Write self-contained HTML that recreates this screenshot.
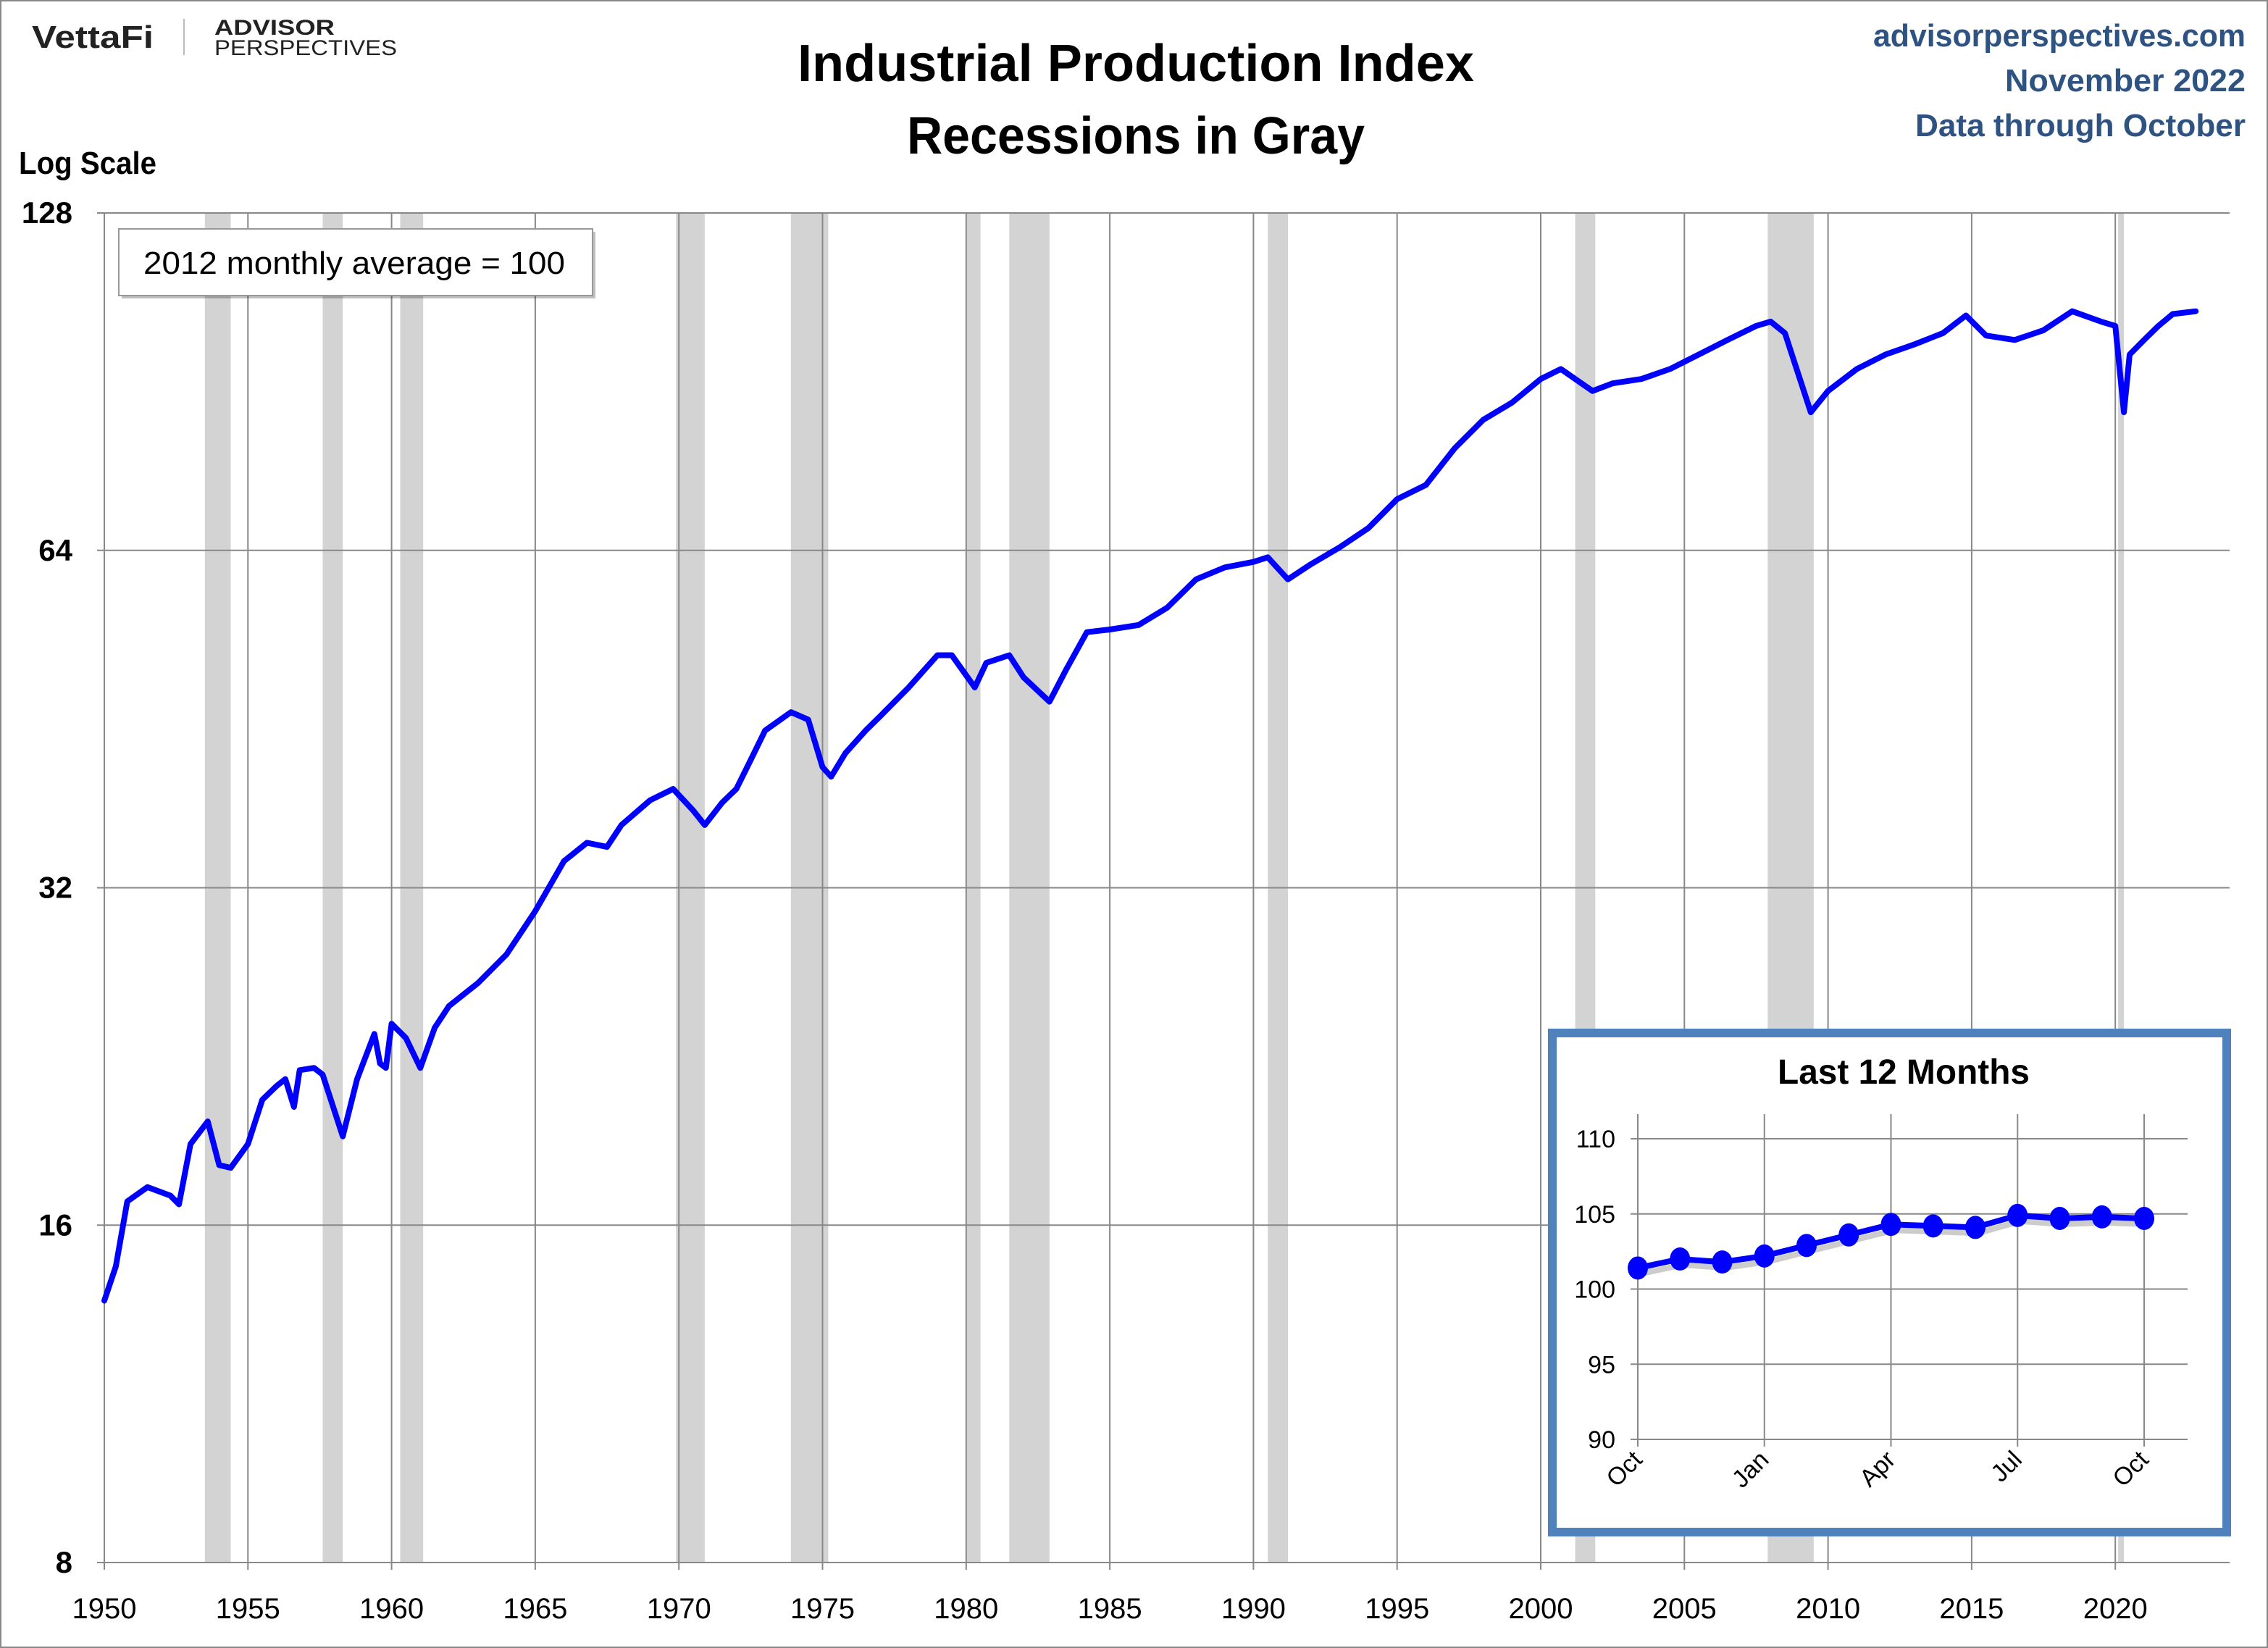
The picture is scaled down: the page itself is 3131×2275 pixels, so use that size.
<!DOCTYPE html>
<html><head><meta charset="utf-8">
<style>
html,body{margin:0;padding:0;background:#fff;}
svg{display:block;}
text{font-family:"Liberation Sans Narrow","Liberation Sans",sans-serif;}
</style></head>
<body>
<svg id="chart" width="3131" height="2275" viewBox="0 0 3131 2275" xmlns="http://www.w3.org/2000/svg">
<rect x="1" y="1" width="3129" height="2273" fill="#fff" stroke="#888" stroke-width="2"/>
<g id="recessions"></g>
<g id="grid"></g>
<g id="series"></g>
<g id="labels"></g>

<text x="44" y="66" font-size="44" font-weight="bold" fill="#222" textLength="168" lengthAdjust="spacingAndGlyphs">VettaFi</text>
<line x1="254" y1="26" x2="254" y2="76" stroke="#bbb" stroke-width="2"/>
<text x="296" y="48" font-size="30" font-weight="bold" fill="#222" textLength="166" lengthAdjust="spacingAndGlyphs">ADVISOR</text>
<text x="296" y="76" font-size="30" fill="#222" textLength="252" lengthAdjust="spacingAndGlyphs">PERSPECTIVES</text>

<text x="1568" y="112" font-size="72" font-weight="bold" text-anchor="middle" fill="#000" textLength="934" lengthAdjust="spacingAndGlyphs">Industrial Production Index</text>
<text x="1568" y="212" font-size="72" font-weight="bold" text-anchor="middle" fill="#000" textLength="632" lengthAdjust="spacingAndGlyphs">Recessions in Gray</text>

<text x="3100" y="64" font-size="44" font-weight="bold" text-anchor="end" fill="#2e5382" textLength="514" lengthAdjust="spacingAndGlyphs">advisorperspectives.com</text>
<text x="3100" y="126" font-size="44" font-weight="bold" text-anchor="end" fill="#2e5382" textLength="332" lengthAdjust="spacingAndGlyphs">November 2022</text>
<text x="3100" y="188" font-size="44" font-weight="bold" text-anchor="end" fill="#2e5382" textLength="456" lengthAdjust="spacingAndGlyphs">Data through October</text>

<text x="26" y="240" font-size="44" font-weight="bold" fill="#000" textLength="190" lengthAdjust="spacingAndGlyphs">Log Scale</text>

<rect x="168" y="320" width="654" height="92" fill="#000" opacity="0.25"/>
<rect x="164" y="316" width="654" height="92" fill="#fff" stroke="#999" stroke-width="2"/>
<text x="198" y="378" font-size="44" fill="#000" textLength="582" lengthAdjust="spacingAndGlyphs">2012 monthly average = 100</text>

<g id="inset"></g>
</svg>
<script>
// ---- main chart data ----
const years = [1950.0,1950.4,1950.8,1951.5,1952.3,1952.6,1953.0,1953.6,1954.0,1954.4,1955.0,1955.5,1956.0,1956.3,1956.6,1956.8,1957.3,1957.6,1958.3,1958.8,1959.4,1959.6,1959.8,1960.0,1960.5,1961.0,1961.5,1962.0,1963.0,1964.0,1965.0,1966.0,1966.8,1967.5,1968.0,1969.0,1969.8,1970.5,1970.9,1971.5,1972.0,1972.5,1973.0,1973.9,1974.5,1975.0,1975.3,1975.8,1976.5,1977.0,1978.0,1979.0,1979.5,1980.3,1980.7,1981.5,1982.0,1982.9,1983.5,1984.2,1985.0,1986.0,1987.0,1988.0,1989.0,1990.0,1990.5,1991.2,1992.0,1993.0,1994.0,1995.0,1996.0,1997.0,1998.0,1999.0,2000.0,2000.7,2001.8,2002.5,2003.5,2004.5,2005.5,2006.5,2007.5,2008.0,2008.5,2009.4,2010.0,2011.0,2012.0,2013.0,2014.0,2014.8,2015.5,2016.5,2017.5,2018.5,2019.5,2020.0,2020.3,2020.5,2021.0,2021.5,2022.0,2022.8];
const values = [13.7,14.7,16.8,17.3,17.0,16.7,18.9,19.8,18.1,18.0,18.9,20.7,21.3,21.6,20.4,22.0,22.1,21.8,19.2,21.6,23.7,22.3,22.1,24.2,23.5,22.1,24.0,25.1,26.3,27.9,30.5,33.8,35.1,34.8,36.4,38.3,39.2,37.5,36.4,38.1,39.2,41.6,44.2,45.9,45.2,41.0,40.2,42.2,44.2,45.5,48.3,51.6,51.6,48.3,50.8,51.6,49.3,46.9,50.2,54.1,54.4,54.9,56.9,60.3,61.8,62.5,63.1,60.3,62.2,64.4,67.0,71.1,73.2,78.9,83.7,86.7,91.0,92.9,88.8,90.2,91.0,92.9,95.7,98.6,101.5,102.4,100.0,85.0,88.8,92.9,95.7,97.7,100.0,103.7,99.5,98.6,100.6,104.6,102.4,101.5,85.0,95.7,98.6,101.5,104.0,104.6];
const recStart = [1953.5,1957.6,1960.3,1969.9,1973.9,1980.0,1981.5,1990.5,2001.2,2007.9,2020.1];
const recEnd   = [1954.4,1958.3,1961.1,1970.9,1975.2,1980.5,1982.9,1991.2,2001.9,2009.5,2020.3];
const yTicks = [8,16,32,64,128];
const xTicks = [1950,1955,1960,1965,1970,1975,1980,1985,1990,1995,2000,2005,2010,2015,2020];
// ---- inset data ----
const insetValues = [101.4,102.0,101.8,102.2,102.9,103.6,104.3,104.2,104.1,104.9,104.7,104.8,104.7];
const insetYTicks = [90,95,100,105,110];
const insetXLabels = ["Oct","Jan","Apr","Jul","Oct"];

const NS="http://www.w3.org/2000/svg";
function mk(tag,attrs,parent){const e=document.createElementNS(NS,tag);for(const k in attrs)e.setAttribute(k,attrs[k]);parent.appendChild(e);return e;}
const L=144,R=3078,T=294,B=2157;
const X=y=>L+(y-1950)*39.66;
const Y=v=>B-(Math.log2(v)-3)*(B-T)/4;

const rg=document.getElementById('recessions');
recStart.forEach((s,i)=>{
  const r=mk('rect',{x:X(s),y:T,width:X(recEnd[i])-X(s),height:B-T,fill:'#d3d3d3'},rg);
  
  
});
const gg=document.getElementById('grid');
const lg=document.getElementById('labels');
xTicks.forEach(t=>{
  const l=mk('line',{x1:X(t),y1:T,x2:X(t),y2:B+10,stroke:'#888','stroke-width':2},gg);
  
  
  const tx=mk('text',{x:X(t),y:2234,'font-size':40,'text-anchor':'middle',fill:'#000'},lg);
  tx.textContent=t;
  
  
});
yTicks.forEach(t=>{
  const l=mk('line',{x1:L-10,y1:Y(t),x2:R,y2:Y(t),stroke:'#888','stroke-width':2},gg);
  
  
  const tx=mk('text',{x:100,y:Y(t)+14,'font-size':42,'font-weight':'bold','text-anchor':'end',fill:'#000'},lg);
  tx.textContent=t;
  
  
});
mk('line',{x1:L,y1:T,x2:L,y2:B,stroke:'#888','stroke-width':2},gg);

const sg=document.getElementById('series');
const pts=years.map((y,i)=>X(y).toFixed(1)+','+Y(values[i]).toFixed(1)).join(' ');
const pl=mk('polyline',{points:pts,fill:'none',stroke:'#0000ff','stroke-width':8,'stroke-linejoin':'round','stroke-linecap':'round'},sg);



// inset
const ig=document.getElementById('inset');
mk('rect',{x:2143,y:1426,width:931,height:689,fill:'#fff',stroke:'#4f81bd','stroke-width':12},ig);
const it=mk('text',{x:2628,y:1496,'font-size':48,'font-weight':'bold','text-anchor':'middle',fill:'#000',textLength:348,lengthAdjust:'spacingAndGlyphs'},ig);
it.textContent='Last 12 Months';


const iL=2261,iR=2960,iT=1538,iB=1987;
const IX=i=>iL+i*(iR-iL)/12;
const IY=v=>iB-(v-90)*(iB-1572)/20;
insetYTicks.forEach(t=>{
  const l=mk('line',{x1:iL-10,y1:IY(t),x2:3020,y2:IY(t),stroke:'#888','stroke-width':2},ig);
  
  
  const tx=mk('text',{x:2230,y:IY(t)+12,'font-size':34,'text-anchor':'end',fill:'#000'},ig);
  tx.textContent=t;
  
  
});
insetXLabels.forEach((lab,k)=>{
  const x=IX(k*3);
  const l=mk('line',{x1:x,y1:iT,x2:x,y2:iB+10,stroke:'#888','stroke-width':2},ig);
  
  
  const tx=mk('text',{x:x+8,y:iB+30,'font-size':34,'text-anchor':'end',fill:'#000',transform:`rotate(-45 ${x+8} ${iB+30})`},ig);
  tx.textContent=lab;
  
  
});
const ipts=insetValues.map((v,i)=>IX(i).toFixed(1)+','+IY(v).toFixed(1)).join(' ');
mk('polyline',{points:ipts,fill:'none',stroke:'#000',opacity:0.2,'stroke-width':8,transform:'translate(4,8)'},ig);
const ipl=mk('polyline',{points:ipts,fill:'none',stroke:'#0000ff','stroke-width':8},ig);


insetValues.forEach((v,i)=>{
  const c=mk('ellipse',{cx:IX(i),cy:IY(v),rx:14,ry:16,fill:'#0000ff'},ig);
  
  
});
</script>
</body></html>
